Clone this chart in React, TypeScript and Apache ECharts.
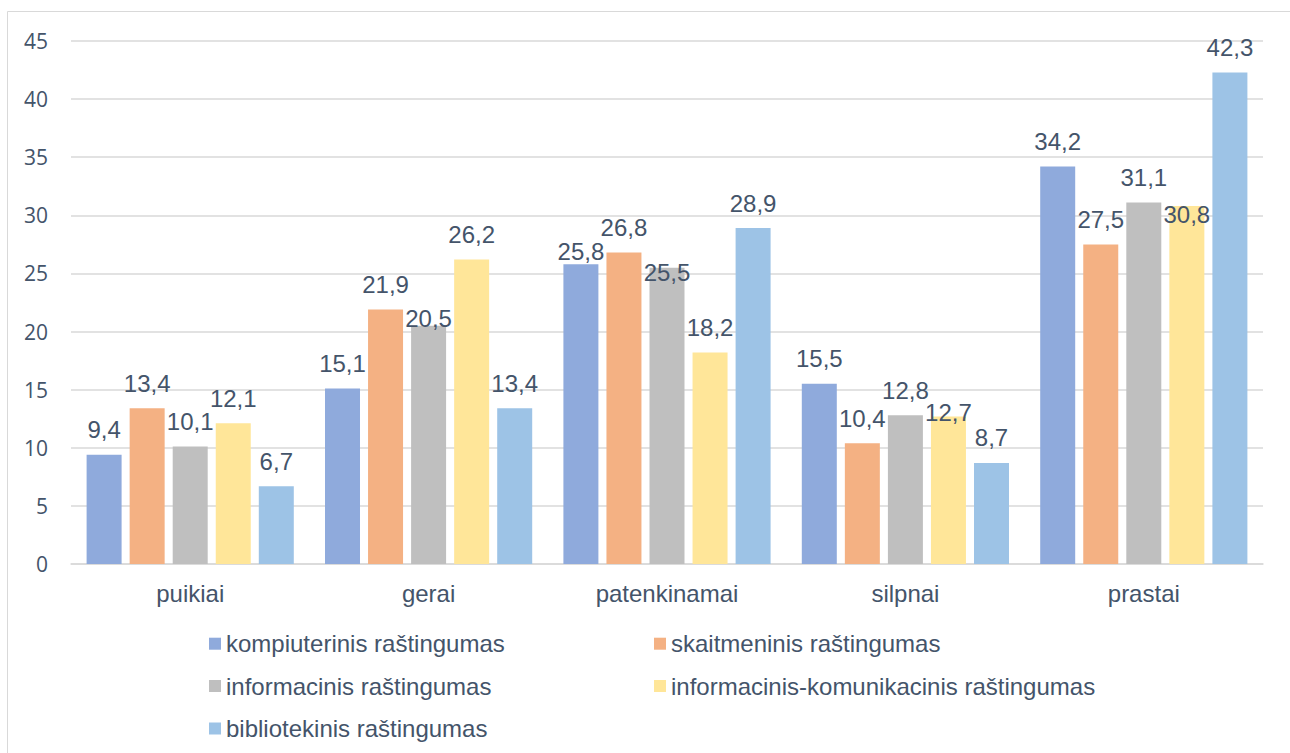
import React, { useEffect, useRef } from "react";
import * as echarts from "echarts";

const categories = ["puikiai", "gerai", "patenkinamai", "silpnai", "prastai"];
const seriesNames = [
  "kompiuterinis raštingumas",
  "skaitmeninis raštingumas",
  "informacinis raštingumas",
  "informacinis-komunikacinis raštingumas",
  "bibliotekinis raštingumas",
];
const kompiuterinis = [9.4, 15.1, 25.8, 15.5, 34.2];
const skaitmeninis = [13.4, 21.9, 26.8, 10.4, 27.5];
const informacinis = [10.1, 20.5, 25.5, 12.8, 31.1];
const infoKomunikacinis = [12.1, 26.2, 18.2, 12.7, 30.8];
const bibliotekinis = [6.7, 13.4, 28.9, 8.7, 42.3];
const yTicks = { min: 0, max: 45, interval: 5 };

// styling: colours and label nudges (as in the original's collision handling)
const colors = ["#8FAADC", "#F4B183", "#BFBFBF", "#FFE699", "#9DC3E6"];
const labelDrop = [
  [0, 0, 12, 0, 0],
  [0, 0, 0, 0, 0],
  [0, 18, 30, 0, 0],
  [0, 0, 0, 21, 33],
  [0, 0, 0, 0, 0],
];

const TEXT = "#44546A";
const FONT = "'Liberation Sans', Arial, sans-serif";

export default function App() {
  const ref = useRef<HTMLDivElement>(null);
  useEffect(() => {
    if (!ref.current) return;
    const chart = echarts.init(ref.current, undefined, { renderer: "svg" });
    const values = [kompiuterinis, skaitmeninis, informacinis, infoKomunikacinis, bibliotekinis];
    const legendPos = [
      { left: 209, top: 631.7 },
      { left: 654, top: 631.7 },
      { left: 209, top: 674 },
      { left: 654, top: 674 },
      { left: 209, top: 716.5 },
    ];
    chart.setOption({
      animation: false,
      backgroundColor: "#ffffff",
      graphic: [
        {
          type: "rect",
          shape: { x: 7.5, y: 11.5, width: 1400, height: 900 },
          style: { fill: "none", stroke: "#D9D9D9", lineWidth: 1 },
          silent: true,
        },
      ],
      grid: { left: 71, right: 27, top: 41, bottom: 189 },
      legend: seriesNames.map((n, i) => ({
        data: [n],
        left: legendPos[i].left,
        top: legendPos[i].top,
        padding: 0,
        itemWidth: 12,
        itemHeight: 12,
        icon: "rect",
        selectedMode: false,
        textStyle: { color: TEXT, fontSize: 24, fontFamily: FONT, lineHeight: 24 },
      })),
      xAxis: {
        type: "category",
        data: categories,
        axisLine: { lineStyle: { color: "#D9D9D9", width: 1.5 } },
        axisTick: { show: false },
        axisLabel: { color: TEXT, fontSize: 24, fontFamily: FONT, margin: 17, lineHeight: 24 },
      },
      yAxis: {
        type: "value",
        min: yTicks.min,
        max: yTicks.max,
        interval: yTicks.interval,
        axisLine: { show: false },
        axisTick: { show: false },
        splitLine: { lineStyle: { color: "#D9D9D9", width: 1.5 } },
        axisLabel: { color: TEXT, fontSize: 21, fontFamily: "'Open Sans', " + FONT, margin: 23 },
      },
      series: seriesNames.map((n, i) => ({
        type: "bar",
        name: n,
        barWidth: 35,
        barGap: "23%",
        itemStyle: { color: colors[i] },
        data: values[i].map((v, j) => ({
          value: v,
          label: { offset: [0, labelDrop[i][j]] },
        })),
        label: {
          show: true,
          position: "top",
          distance: 13,
          color: TEXT,
          fontSize: 24,
          fontFamily: FONT,
          lineHeight: 24,
          formatter: (p: any) => Number(p.value).toFixed(1).replace(".", ","),
        },
      })),
    });
    return () => chart.dispose();
  }, []);
  return (
    <div
      ref={ref}
      style={{ position: "fixed", left: 0, top: 0, width: 1290, height: 753 }}
    />
  );
}
